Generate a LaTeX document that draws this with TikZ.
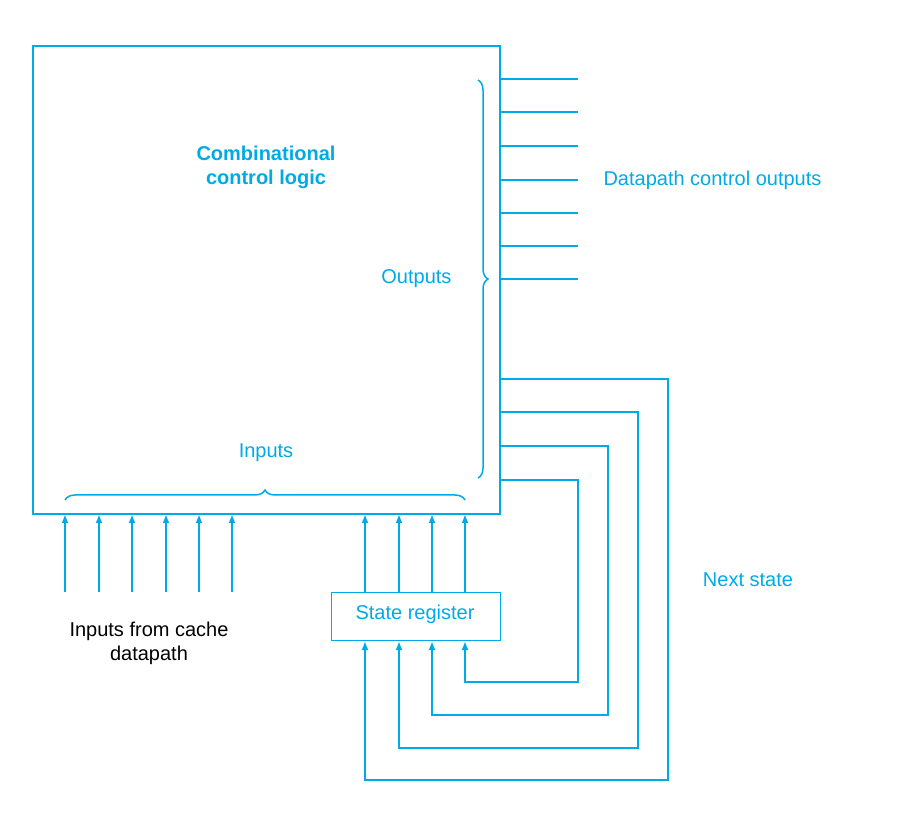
\documentclass[tikz,border=0pt]{standalone}
\usepackage{fontspec}
\setmainfont{Liberation Sans}
\usetikzlibrary{arrows.meta,decorations.pathreplacing}
\definecolor{cy}{RGB}{0,170,230}
\begin{document}
\begin{tikzpicture}[x=1pt,y=-1pt,
  ln/.style={cy,line width=2pt},
  ar/.style={ln,-{Latex[length=9pt,width=7pt]}},
  br/.style={ln,line width=1.5pt,decorate,decoration={brace,amplitude=10pt}},
  lbl/.style={text=cy,font=\fontsize{20}{24}\selectfont},
  blk/.style={text=black,font=\fontsize{20}{24}\selectfont,align=center}]
\useasboundingbox (0,0) rectangle (906,818);
\node[draw=cy,line width=2pt,minimum width=467pt,minimum height=468pt,inner sep=0,anchor=north west] (box) at (32,45) {};
\node[lbl,font=\fontsize{20}{24}\selectfont\bfseries,align=center] (title) at (266,167) {Combinational\\control logic};
\foreach \y in {79,112,146,180,213,246,279} \draw[ln] (499,\y) -- (578,\y);
\node[lbl,anchor=west] (dco) at (600,180) {Datapath control outputs};
\draw[br] (478,80) -- (478,478);
\node[lbl,anchor=east] (outs) at (455,279) {Outputs};
\draw[br] (65,500) -- (465,500);
\node[lbl] (ins) at (266,453) {Inputs};
\node[draw=cy,line width=1pt,minimum width=169pt,minimum height=48pt,inner sep=0,lbl,anchor=north west] (reg) at (331,592) {};
\node[lbl] at (415,614) {State register};
\foreach \x in {65,99,132,166,199,232} \draw[ar] (\x,592) -- (\x,514);
\foreach \x in {365,399,432,465} \draw[ar] (\x,592) -- (\x,514);
\draw[ar] (499,379) -- (668,379) -- (668,780) -- (365,780) -- (365,641);
\draw[ar] (499,412) -- (638,412) -- (638,748) -- (399,748) -- (399,641);
\draw[ar] (499,446) -- (608,446) -- (608,715) -- (432,715) -- (432,641);
\draw[ar] (499,480) -- (578,480) -- (578,682) -- (465,682) -- (465,641);
\node[lbl] (ns) at (748,580) {Next state};
\node[blk] (ifc) at (149,643) {Inputs from cache\\datapath};
\end{tikzpicture}
\end{document}
